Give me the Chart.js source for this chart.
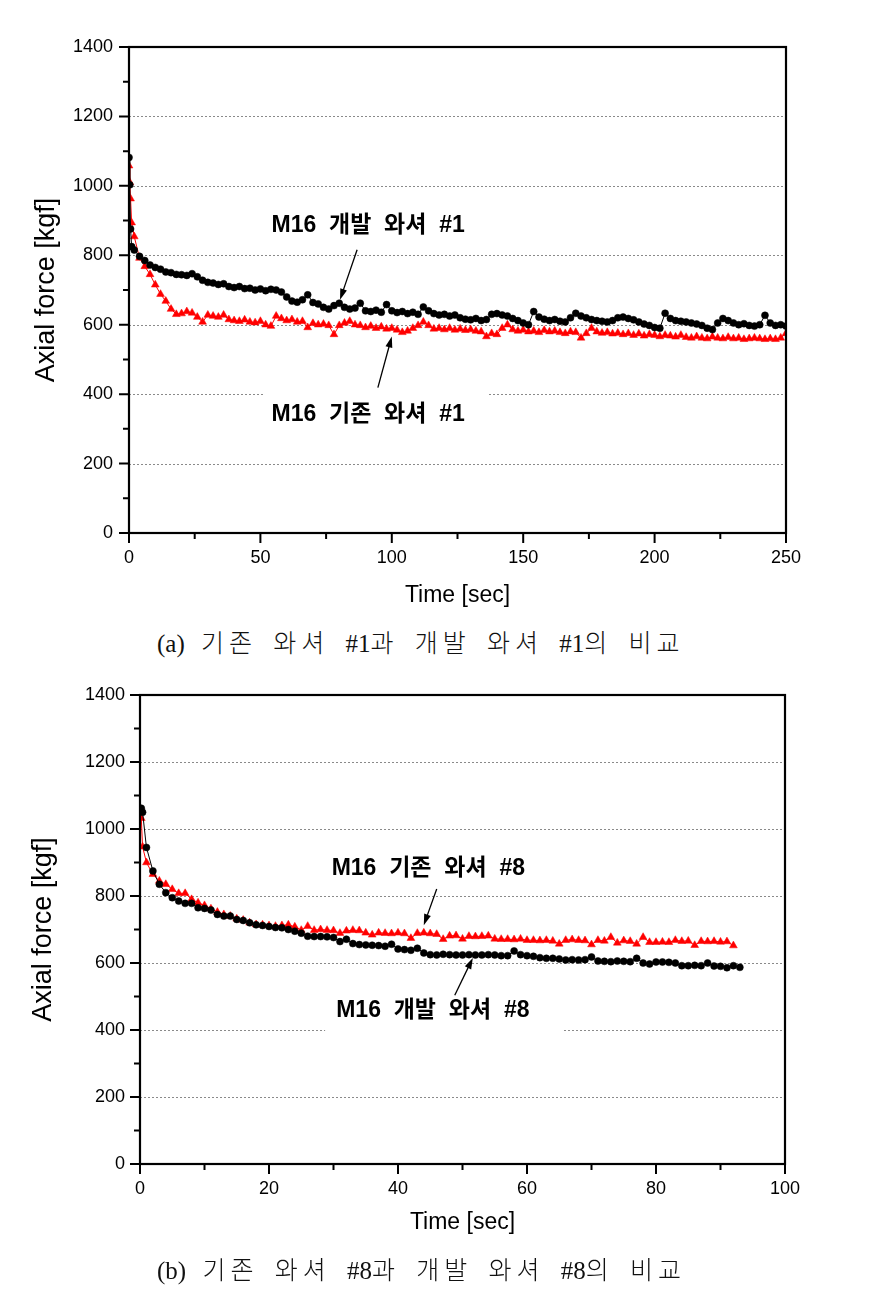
<!DOCTYPE html>
<html>
<head>
<meta charset="utf-8">
<script src="https://cdn.jsdelivr.net/npm/chart.js@4.4.1/dist/chart.umd.min.js"></script>
<style>
html,body{margin:0;padding:0;background:#fff;}
body{width:886px;height:1296px;position:relative;overflow:hidden;}
.wrap{position:absolute;left:0;width:886px;}
#w1{top:0;height:620px;}
#w2{top:665px;height:595px;}
.cap{position:absolute;left:157px;white-space:nowrap;z-index:3;
  font-family:"Liberation Serif","Noto Sans CJK KR",serif;font-weight:300;font-size:25px;
  letter-spacing:5px;word-spacing:5px;color:#111;line-height:30px;}
.cap .l{letter-spacing:0;}
#c1cap{top:629px;}
#c2cap{top:1256px;}
</style>
</head>
<body>
<div class="wrap" id="w1"><canvas id="c1"></canvas></div>
<div class="wrap" id="w2"><canvas id="c2"></canvas></div>
<div class="cap" id="c1cap"><span class="l">(a)</span> 기존 와셔 <span class="l">#1</span>과 개발 와셔 <span class="l">#1</span>의 비교</div>
<div class="cap" id="c2cap"><span class="l">(b)</span> 기존 와셔 <span class="l">#8</span>과 개발 와셔 <span class="l">#8</span>의 비교</div>
<script>
// ---------------- Chart (a) data ----------------
const time1 = [0,0.3,0.6,1,2,4,6,8,10,12,14,16,18,20,22,24,26,28,30,32,34,36,38,40,42,44,46,48,50,52,54,56,58,60,62,64,66,68,70,72,74,76,78,80,82,84,86,88,90,92,94,96,98,100,102,104,106,108,110,112,114,116,118,120,122,124,126,128,130,132,134,136,138,140,142,144,146,148,150,152,154,156,158,160,162,164,166,168,170,172,174,176,178,180,182,184,186,188,190,192,194,196,198,200,202,204,206,208,210,212,214,216,218,220,222,224,226,228,230,232,234,236,238,240,242,244,246,248,250];
const dev1 = [1082,1003,876,825,
 815,797,785,772,765,760,752,750,745,744,
 742,747,738,728,722,720,716,718,710,707,
 710,704,705,700,703,698,702,700,694,680,
 668,665,672,686,664,660,650,645,655,662,
 650,645,648,662,640,638,642,636,658,640,
 635,638,632,636,630,651,640,632,628,630,
 625,628,620,616,614,618,612,615,630,632,
 628,625,618,612,605,600,638,622,616,612,
 615,610,608,620,633,625,620,615,612,610,
 608,612,620,622,618,614,608,602,598,592,
 590,633,618,612,610,608,605,602,598,590,
 586,605,618,612,605,600,603,598,596,600,
 627,605,598,600,596];
const old1 = [1058,1010,963,894,
 854,792,768,745,715,688,668,645,630,632,
 638,634,622,608,628,625,622,628,615,612,
 610,614,608,606,610,600,596,625,618,612,
 615,608,610,592,604,600,602,598,572,598,
 605,610,600,598,592,596,590,594,588,590,
 585,578,582,590,598,608,598,588,590,586,
 590,585,588,584,586,582,580,566,575,572,
 590,600,586,582,585,580,582,578,584,580,
 582,578,575,580,578,562,575,590,580,576,
 578,574,576,572,575,570,574,568,572,570,
 566,570,568,565,570,564,562,566,562,560,
 565,562,560,564,560,562,558,560,562,560,
 558,560,558,562,575];

// ---------------- Chart (b) data ----------------
const time2dev = [0.2,0.4,1,2,3,4,5,6,7,8,9,10,11,12,13,14,15,16,17,18,19,20,21,22,23,24,25,26,27,28,29,30,31,32,33,34,35,36,37,38,39,40,41,42,43,44,45,46,47,48,49,50,51,52,53,54,55,56,57,58,59,60,61,62,63,64,65,66,67,68,69,70,71,72,73,74,75,76,77,78,79,80,81,82,83,84,85,86,87,88,89,90,91,92,93];
const dev8 = [1062,1050,
 945,875,835,810,795,785,778,778,765,763,
 758,745,740,740,730,727,720,714,712,709,
 706,705,700,695,689,680,679,679,678,676,
 664,671,658,655,654,653,652,650,656,642,
 640,638,644,630,625,624,626,625,624,624,
 625,624,624,625,624,622,622,636,625,622,
 620,616,614,614,612,609,610,609,610,618,
 606,605,604,606,605,604,614,600,597,603,
 603,602,600,592,592,593,592,600,591,590,
 586,592,587];
const time2old = [0.2,0.4,1,2,3,4,5,6,7,8,9,10,11,12,13,14,15,16,17,18,19,20,21,22,23,24,25,26,27,28,29,30,31,32,33,34,35,36,37,38,39,40,41,42,43,44,45,46,47,48,49,50,51,52,53,54,55,56,57,58,59,60,61,62,63,64,65,66,67,68,69,70,71,72,73,74,75,76,77,78,79,80,81,82,83,84,85,86,87,88,89,90,91,92];
const old8 = [1032,947,
 900,865,845,835,820,808,808,790,780,772,
 762,752,745,740,732,728,720,715,714,712,
 710,712,714,708,698,710,698,700,698,697,
 689,696,698,697,690,684,690,689,688,690,
 688,674,689,690,688,686,671,681,682,672,
 680,679,680,681,672,671,671,670,672,668,
 668,667,668,666,657,668,670,668,667,655,
 668,666,677,660,667,665,657,677,662,662,
 663,662,668,665,666,653,665,664,665,663,
 664,652];

// ---------------- axis tick values ----------------
const yMajor = [0,200,400,600,800,1000,1200,1400];
const yMinor = [100,300,500,700,900,1100,1300];
const yGrid = [200,400,600,800,1000,1200];
const x1Major = [0,50,100,150,200,250];
const x1Minor = [25,75,125,175,225];
const x2Major = [0,20,40,60,80,100];
const x2Minor = [10,30,50,70,90];

const seriesDev1 = 'M16 개발 와셔 #1';
const seriesOld1 = 'M16 기존 와셔 #1';
const seriesDev8 = 'M16 개발 와셔 #8';
const seriesOld8 = 'M16 기존 와셔 #8';

// annotation placement (in data units)
const notes1 = [
  {text:'M16  개발  와셔  #1', at:[91,885], box:null, arrow:[[86.8,816],[80.3,672]]},
  {text:'M16  기존  와셔  #1', at:[91,341], box:[51,136.6,269,427], arrow:[[94.7,419],[100,566]]}
];
const notes2 = [
  {text:'M16  기존  와셔  #8', at:[44.7,881], box:null, arrow:[[46,821],[44,713]]},
  {text:'M16  개발  와셔  #8', at:[45.4,457], box:[28.7,65.6,370,525], arrow:[[48.8,504],[51.6,615]]}
];

function pts(t, v){ return v.map((val,i)=>({x:t[i], y:val})); }

function customPlugin(cfg){
  return {
    id:'custom_'+cfg.id,
    beforeDatasetsDraw(chart){
      const {ctx, chartArea:a, scales:{x,y}} = chart;
      ctx.save();
      ctx.strokeStyle='#8a8a8a'; ctx.lineWidth=1; ctx.setLineDash([2,2]);
      for(const v of yGrid){
        const py=Math.round(y.getPixelForValue(v))+0.5;
        ctx.beginPath(); ctx.moveTo(a.left,py); ctx.lineTo(a.right,py); ctx.stroke();
      }
      ctx.setLineDash([]);
      ctx.fillStyle='#fff';
      for(const n of cfg.notes){
        if(!n.box) continue;
        const [t0,t1,v0,v1]=n.box;
        const x0=x.getPixelForValue(t0), x1=x.getPixelForValue(t1);
        const y0=y.getPixelForValue(v1), y1=y.getPixelForValue(v0);
        ctx.fillRect(x0,y0,x1-x0,y1-y0);
      }
      ctx.restore();
    },
    afterDatasetsDraw(chart){
      const {ctx, scales:{x,y}} = chart;
      ctx.save();
      ctx.fillStyle='#000'; ctx.strokeStyle='#000';
      ctx.font="bold 23px 'Liberation Sans','Noto Sans CJK KR',sans-serif";
      ctx.textAlign='center'; ctx.textBaseline='middle';
      for(const n of cfg.notes){
        ctx.fillText(n.text, x.getPixelForValue(n.at[0]), y.getPixelForValue(n.at[1]));
        const sx=x.getPixelForValue(n.arrow[0][0]), sy=y.getPixelForValue(n.arrow[0][1]);
        const ex=x.getPixelForValue(n.arrow[1][0]), ey=y.getPixelForValue(n.arrow[1][1]);
        const ang=Math.atan2(ey-sy, ex-sx);
        const L=11, W=3.5;
        ctx.lineWidth=1.3;
        ctx.beginPath(); ctx.moveTo(sx,sy);
        ctx.lineTo(ex-Math.cos(ang)*L*0.8, ey-Math.sin(ang)*L*0.8); ctx.stroke();
        ctx.beginPath();
        ctx.moveTo(ex,ey);
        ctx.lineTo(ex-Math.cos(ang)*L+Math.sin(ang)*W, ey-Math.sin(ang)*L-Math.cos(ang)*W);
        ctx.lineTo(ex-Math.cos(ang)*L-Math.sin(ang)*W, ey-Math.sin(ang)*L+Math.cos(ang)*W);
        ctx.closePath(); ctx.fill();
      }
      ctx.restore();
    },
    afterDraw(chart){
      const {ctx, chartArea:a, scales:{x,y}} = chart;
      ctx.save();
      ctx.strokeStyle='#000'; ctx.lineWidth=2.2;
      ctx.strokeRect(a.left, a.top, a.right-a.left, a.bottom-a.top);
      ctx.lineWidth=2;
      ctx.beginPath();
      for(const v of yMajor){ const py=y.getPixelForValue(v); ctx.moveTo(a.left,py); ctx.lineTo(a.left-10,py); }
      for(const v of yMinor){ const py=y.getPixelForValue(v); ctx.moveTo(a.left,py); ctx.lineTo(a.left-6,py); }
      for(const v of cfg.xMajor){ const px=x.getPixelForValue(v); ctx.moveTo(px,a.bottom); ctx.lineTo(px,a.bottom+10); }
      for(const v of cfg.xMinor){ const px=x.getPixelForValue(v); ctx.moveTo(px,a.bottom); ctx.lineTo(px,a.bottom+6); }
      ctx.stroke();
      ctx.restore();
    }
  };
}

function makeChart(el, o){
  return new Chart(document.getElementById(el), {
    type:'scatter',
    data:{datasets:[
      {label:o.devLabel, data:pts(o.devT,o.devV), showLine:true, borderColor:'#000', borderWidth:1,
       pointStyle:'circle', pointRadius:3.5, pointBackgroundColor:'#000', pointBorderColor:'#000', pointBorderWidth:0.5},
      {label:o.oldLabel, data:pts(o.oldT,o.oldV), showLine:true, borderColor:'#ff0000', borderWidth:1,
       pointStyle:'triangle', pointRadius:4.5, pointBackgroundColor:'#ff0000', pointBorderColor:'#ff0000', pointBorderWidth:0.5}
    ]},
    options:{
      responsive:true, maintainAspectRatio:false, animation:false,
      layout:{padding:o.pad},
      plugins:{legend:{display:false}, tooltip:{enabled:false}},
      scales:{
        x:{type:'linear', min:0, max:o.xMax,
           ticks:{stepSize:o.xStep, color:'#000', padding:4, maxRotation:0,
                  font:{family:'Liberation Sans', size:18}, callback:(v)=>String(v)},
           grid:{display:true, drawOnChartArea:false, color:'rgba(0,0,0,0)', tickColor:'rgba(0,0,0,0)', tickLength:10},
           border:{display:false},
           title:{display:true, text:'Time [sec]', color:'#000', font:{family:'Liberation Sans', size:23}, padding:{top:0,bottom:o.xTitlePad}},
           afterFit(s){ s.height=o.xH; }},
        y:{type:'linear', min:0, max:1400,
           ticks:{stepSize:200, color:'#000', padding:o.yTickPad, font:{family:'Liberation Sans', size:18}, callback:(v)=>String(v)},
           grid:{display:true, drawOnChartArea:false, color:'rgba(0,0,0,0)', tickColor:'rgba(0,0,0,0)', tickLength:10},
           border:{display:false},
           title:{display:true, text:'Axial force [kgf]', color:'#000', font:{family:'Liberation Sans', size:27}, padding:{top:o.yTitlePad,bottom:0}},
           afterFit(s){ s.width=o.yW; }}
      }
    },
    plugins:[customPlugin({id:el, notes:o.notes, xMajor:o.xMajor, xMinor:o.xMinor})]
  });
}

makeChart('c1', {devLabel:seriesDev1, oldLabel:seriesOld1, devT:time1, devV:dev1, oldT:time1, oldV:old1,
  xMax:250, xStep:50, xMajor:x1Major, xMinor:x1Minor, notes:notes1,
  pad:{left:0, top:47, right:100, bottom:0}, yW:129, xH:87, xTitlePad:11, yTitlePad:30, yTickPad:6});
makeChart('c2', {devLabel:seriesDev8, oldLabel:seriesOld8, devT:time2dev, devV:dev8, oldT:time2old, oldV:old8,
  xMax:100, xStep:20, xMajor:x2Major, xMinor:x2Minor, notes:notes2,
  pad:{left:0, top:30, right:101, bottom:0}, yW:140, xH:96, xTitlePad:24, yTitlePad:27, yTickPad:5});
</script>
</body>
</html>
